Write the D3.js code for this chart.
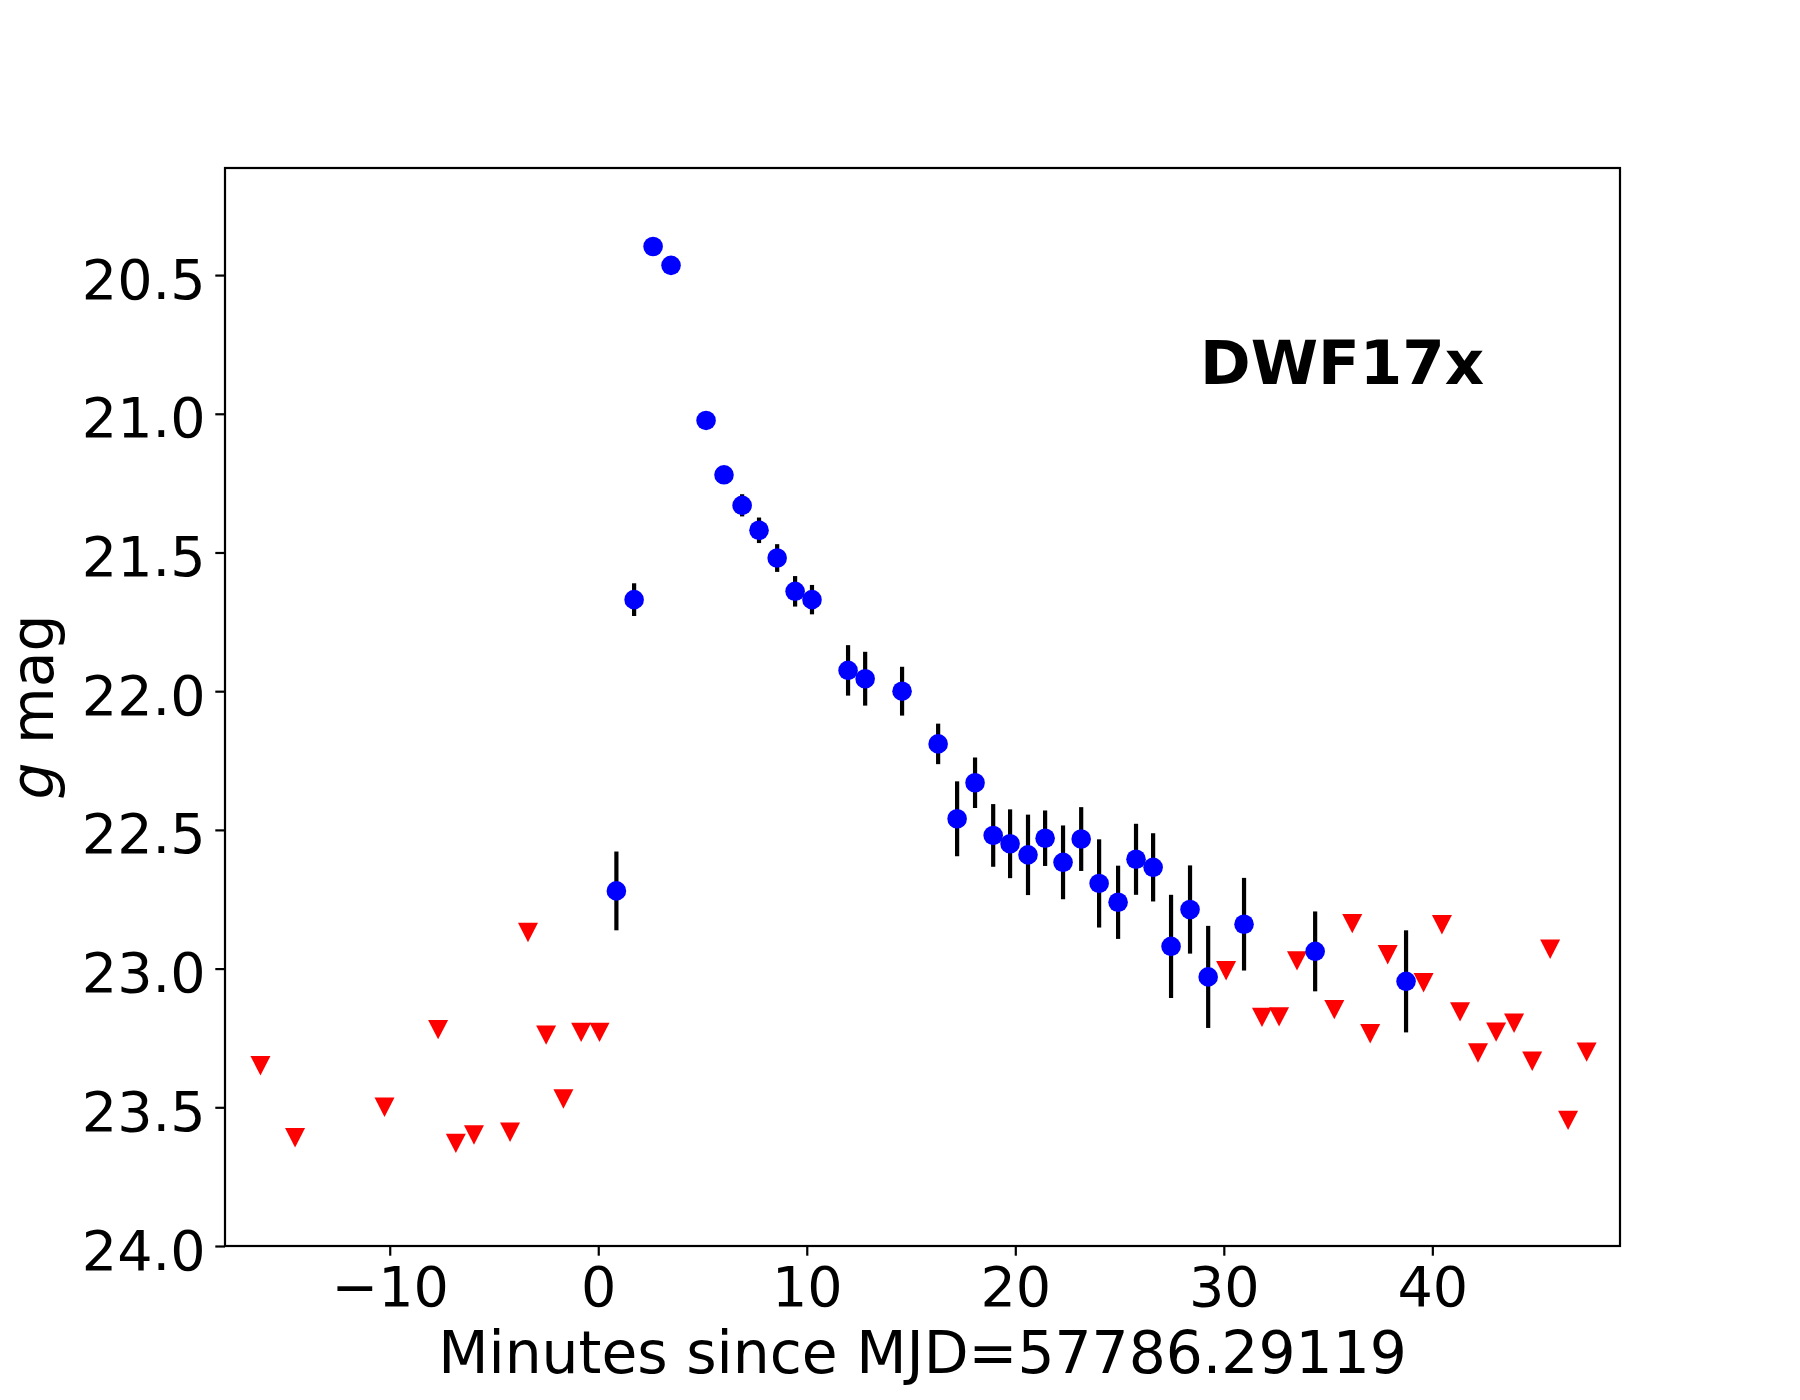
<!DOCTYPE html>
<html>
<head>
<meta charset="utf-8">
<script src="https://cdn.jsdelivr.net/npm/d3@7"></script>
<style>
  body { margin: 0; background: #fff; }
  svg text { font-family: "DejaVu Sans", sans-serif; fill: #000; }
</style>
</head>
<body>
<div id="chart"></div>
<script>
// detections (minutes since MJD=57786.29119, g mag, 1-sigma error)
const detTime = [0.87, 1.72, 2.63, 3.49, 5.17, 6.03, 6.90, 7.71, 8.58, 9.44, 10.25,
  11.98, 12.80, 14.57, 16.30, 17.21, 18.07, 18.94, 19.75, 20.61, 21.43, 22.29,
  23.16, 24.02, 24.93, 25.79, 26.61, 27.47, 28.38, 29.25, 30.97, 34.38, 38.74];
const detMag = [22.72, 21.67, 20.397, 20.465, 21.024, 21.22, 21.33, 21.42, 21.52, 21.64, 21.67,
  21.925, 21.955, 22.00, 22.19, 22.46, 22.33, 22.52, 22.55, 22.59, 22.53, 22.617,
  22.533, 22.693, 22.761, 22.606, 22.635, 22.92, 22.787, 23.03, 22.84, 22.938, 23.046];
const detErr = [0.142, 0.059, 0.01, 0.01, 0.015, 0.025, 0.04, 0.046, 0.05, 0.055, 0.053,
  0.091, 0.097, 0.088, 0.073, 0.135, 0.091, 0.113, 0.124, 0.145, 0.10, 0.133,
  0.115, 0.159, 0.132, 0.128, 0.123, 0.186, 0.159, 0.184, 0.167, 0.144, 0.184];

// upper limits
const limTime = [-16.20, -14.54, -10.25, -7.68, -6.83, -5.96, -4.23, -3.37, -2.50, -1.67, -0.82, 0.06,
  30.11, 31.83, 32.65, 33.51, 35.30, 36.16, 37.02, 37.86, 39.58, 40.46, 41.33, 42.19,
  43.06, 43.92, 44.79, 45.65, 46.51, 47.40];
const limMag = [23.35, 23.61, 23.50, 23.22, 23.63, 23.60, 23.59, 22.87, 23.24, 23.47, 23.23, 23.23,
  23.008, 23.176, 23.174, 22.972, 23.148, 22.838, 23.235, 22.950, 23.051, 22.842, 23.156, 23.304,
  23.229, 23.197, 23.334, 22.930, 23.547, 23.301];

const xTicks = [-10, 0, 10, 20, 30, 40];
const yTicks = [20.5, 21.0, 21.5, 22.0, 22.5, 23.0, 23.5, 24.0];

const W = 1800, H = 1400;
const m = { left: 225, top: 168, right: 180, bottom: 154 };
const pw = W - m.left - m.right, ph = H - m.top - m.bottom;

const svg = d3.select('#chart').append('svg')
  .attr('width', W).attr('height', H);
svg.append('rect').attr('width', W).attr('height', H).attr('fill', '#fff');

const g = svg.append('g').attr('transform', `translate(${m.left},${m.top})`);

const x = d3.scaleLinear().domain([-17.9, 49.0]).range([0, pw]);
const y = d3.scaleLinear().domain([20.114, 24.0]).range([0, ph]);

const tickLen = 9.7, tickPad = 9.7;

const xAxis = g.append('g').attr('transform', `translate(0,${ph})`)
  .call(d3.axisBottom(x).tickValues(xTicks).tickSize(tickLen).tickPadding(tickPad).tickSizeOuter(0));
xAxis.select('.domain').remove();
xAxis.selectAll('line').attr('stroke', '#000').attr('stroke-width', 2.2);
xAxis.selectAll('text').attr('font-size', 55.6).attr('dy', '0.73em')
  .attr('font-family', 'DejaVu Sans');

const yAxis = g.append('g')
  .call(d3.axisLeft(y).tickValues(yTicks).tickFormat(d3.format('.1f'))
    .tickSize(tickLen).tickPadding(tickPad).tickSizeOuter(0));
yAxis.select('.domain').remove();
yAxis.selectAll('line').attr('stroke', '#000').attr('stroke-width', 2.2);
yAxis.selectAll('text').attr('font-size', 55.6).attr('dy', '0.415em')
  .attr('font-family', 'DejaVu Sans');

// upper limits: downward triangles
const lims = limTime.map((t, i) => ({ t, mag: limMag[i] }));
const tri = (cx, cy) => `M${cx - 10},${cy - 9.7}L${cx + 10},${cy - 9.7}L${cx},${cy + 9.7}Z`;
g.append('g').selectAll('path').data(lims).join('path')
  .attr('d', d => tri(x(d.t), y(d.mag)))
  .attr('fill', '#ff0000');

// detections with error bars
const dets = detTime.map((t, i) => ({ t, mag: detMag[i], err: detErr[i] }));
g.append('g').selectAll('line').data(dets).join('line')
  .attr('x1', d => x(d.t)).attr('x2', d => x(d.t))
  .attr('y1', d => y(d.mag - d.err)).attr('y2', d => y(d.mag + d.err))
  .attr('stroke', '#000').attr('stroke-width', 4.2);
g.append('g').selectAll('circle').data(dets).join('circle')
  .attr('cx', d => x(d.t)).attr('cy', d => y(d.mag))
  .attr('r', 9.8).attr('fill', '#0000ff');

// frame
g.append('rect').attr('width', pw).attr('height', ph)
  .attr('fill', 'none').attr('stroke', '#000').attr('stroke-width', 2.2);

// labels
g.append('text').attr('x', 975).attr('y', 384 - m.top)
  .attr('font-size', 61.1).attr('font-weight', 'bold').text('DWF17x');

svg.append('text').attr('x', m.left + pw / 2).attr('y', 1373)
  .attr('text-anchor', 'middle').attr('font-size', 58.3)
  .text('Minutes since MJD=57786.29119');

const yl = svg.append('text')
  .attr('transform', `translate(53,${m.top + ph / 2}) rotate(-90)`)
  .attr('text-anchor', 'middle').attr('font-size', 58.3);
yl.append('tspan').attr('font-style', 'italic').text('g');
yl.append('tspan').text(' mag');
</script>
</body>
</html>
